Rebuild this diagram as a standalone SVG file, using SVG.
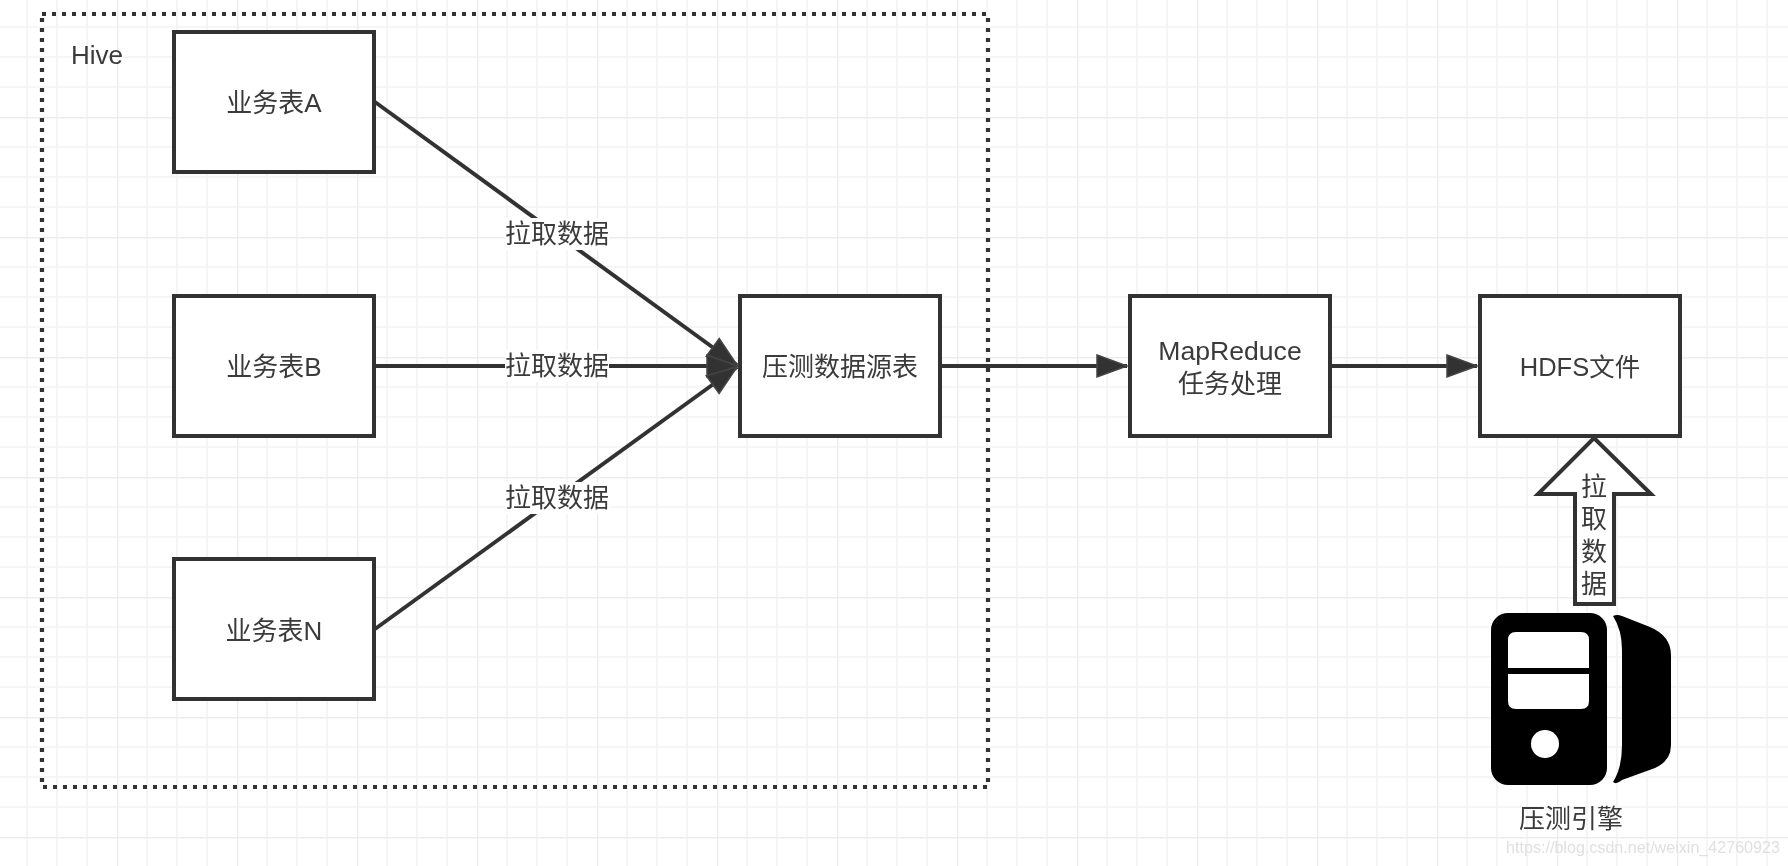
<svg xmlns="http://www.w3.org/2000/svg" width="1788" height="866" viewBox="0 0 1788 866">
<style>
text{font-family:"Liberation Sans","Noto Sans CJK SC",sans-serif;font-size:26px;fill:#3a3a3a;text-anchor:middle}
.box{fill:#fff;stroke:#333;stroke-width:4}
.edge{fill:none;stroke:#333;stroke-width:4;marker-end:url(#head)}
.lbg{fill:#fff}
</style>
<defs>
<filter id="soft" x="0" y="0" width="100%" height="100%" filterUnits="objectBoundingBox"><feGaussianBlur stdDeviation="0.5"/></filter>
<marker id="head" markerUnits="userSpaceOnUse" markerWidth="38" markerHeight="30" refX="33" refY="15" orient="auto">
<path d="M3,4 L33,15 L3,26 Z" fill="#333" stroke="#444" stroke-width="1.500"/>
</marker>
<pattern id="grid" width="120" height="120" patternUnits="userSpaceOnUse" patternTransform="translate(-3,-3)">
<path d="M30,0V120M60,0V120M90,0V120M0,30H120M0,60H120M0,90H120" fill="none" stroke="#f3f3f3" stroke-width="1.600"/>
<path d="M0,0V120M0,0H120" fill="none" stroke="#ededed" stroke-width="2.800"/>
</pattern>
</defs>
<g filter="url(#soft)">
<rect width="1788" height="866" fill="#fff"/>
<rect width="1788" height="866" fill="url(#grid)"/>
<g id="hive">
<rect x="42" y="14" width="946" height="773" fill="none" stroke="#333" stroke-width="4.200" stroke-dasharray="4 6"/>
<text x="97" y="64">Hive</text>
</g>
<g id="connectors">
<path class="edge" d="M375,102L737,365"/>
<path class="edge" d="M375,366H737"/>
<path class="edge" d="M375,629L737,367"/>
<path class="edge" d="M941,366H1127"/>
<path class="edge" d="M1331,366H1477"/>
<g id="edge-labels">
<rect class="lbg" x="505" y="218" width="104" height="32"/><text x="557" y="243">拉取数据</text>
<rect class="lbg" x="505" y="350" width="104" height="32"/><text x="557" y="375">拉取数据</text>
<rect class="lbg" x="505" y="482" width="104" height="32"/><text x="557" y="507">拉取数据</text>
</g>
</g>
<g id="table-a"><rect class="box" x="174" y="32" width="200" height="140"/><text x="274" y="112">业务表A</text></g>
<g id="table-b"><rect class="box" x="174" y="296" width="200" height="140"/><text x="274" y="376">业务表B</text></g>
<g id="table-n"><rect class="box" x="174" y="559" width="200" height="140"/><text x="274" y="640">业务表N</text></g>
<g id="source"><rect class="box" x="740" y="296" width="200" height="140"/><text x="840" y="376">压测数据源表</text></g>
<g id="mapreduce"><rect class="box" x="1130" y="296" width="200" height="140"/><text x="1230" y="360" style="font-size:26.600px">MapReduce</text><text x="1230" y="393">任务处理</text></g>
<g id="hdfs"><rect class="box" x="1480" y="296" width="200" height="140"/><text x="1580" y="376" style="font-size:25.500px">HDFS文件</text></g>
<g id="pull-arrow">
<path d="M1594,438L1651,494H1614V604H1575V494H1538Z" fill="#fff" stroke="#333" stroke-width="4"/>
<text x="1594" y="496">拉</text><text x="1594" y="528">取</text><text x="1594" y="561">数</text><text x="1594" y="593">据</text>
</g>
<g id="engine">
<rect x="1491" y="613" width="116" height="172" rx="17" fill="#000"/>
<path d="M1516,632H1581Q1589,632 1589,640V668H1508V640Q1508,632 1516,632ZM1508,674H1589V701Q1589,709 1581,709H1516Q1508,709 1508,701Z" fill="#fff"/>
<circle cx="1545" cy="744" r="14" fill="#fff"/>
<path d="M1613,616Q1617,614 1622,616L1650,627Q1671,636 1671,655V745Q1671,761 1655,768L1622,780Q1616,785 1613,782Q1622,768 1622,745V650Q1622,630 1613,616Z" fill="#000"/>
<text x="1571" y="828">压测引擎</text>
</g>
<text id="watermark" x="1643" y="853" style="font-size:16.100px;fill:#e0e0e0">https://blog.csdn.net/weixin_42760923</text>
</g>
</svg>
